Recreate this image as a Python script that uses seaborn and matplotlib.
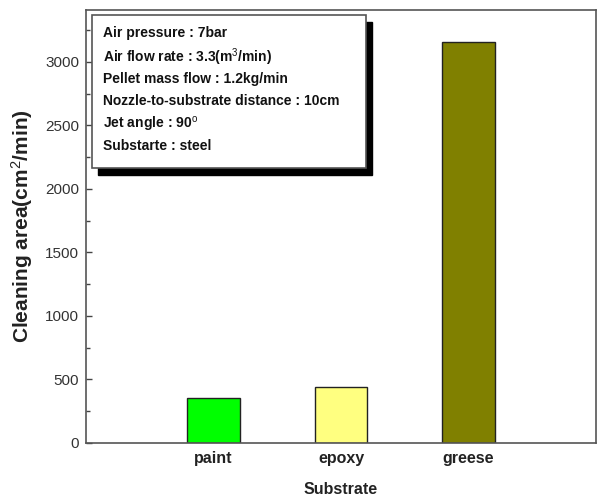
import matplotlib
matplotlib.use("Agg")
import matplotlib.pyplot as plt
import seaborn as sns
import pandas as pd
from matplotlib.patches import Rectangle
from matplotlib.ticker import MultipleLocator

categories = ["paint", "epoxy", "greese"]
values = [352, 440, 3157]
colors = ["#00ff00", "#ffff80", "#808000"]
info_lines = [
    "Air pressure : 7bar",
    r"Air flow rate : 3.3(m$^3$/min)",
    "Pellet mass flow : 1.2kg/min",
    "Nozzle-to-substrate distance : 10cm",
    r"Jet angle : 90$^o$",
    "Substarte : steel",
]

sns.set_theme(style="white")
plt.rcParams["font.family"] = ["Liberation Sans", "DejaVu Sans"]
plt.rcParams["mathtext.fontset"] = "custom"
plt.rcParams["mathtext.rm"] = "Liberation Sans"
plt.rcParams["mathtext.it"] = "Liberation Sans"
plt.rcParams["mathtext.bf"] = "Liberation Sans:bold"

W, H = 603, 499
fig = plt.figure(figsize=(W / 100, H / 100), dpi=100)
L, R, T, B = 86, 596, 10, 443
ax = fig.add_axes([L / W, 1 - B / H, (R - L) / W, (B - T) / H])

df = pd.DataFrame({"cat": categories, "val": values})
sns.barplot(data=df, x="cat", y="val", hue="cat", palette=colors, legend=False,
            width=0.41, edgecolor="#222222", linewidth=1.0, ax=ax, saturation=1)

ax.set_xlim(-1, 3)
ax.set_ylim(0, 3409)
ax.yaxis.set_major_locator(MultipleLocator(500))
ax.yaxis.set_minor_locator(MultipleLocator(250))
ax.tick_params(axis="y", which="both", direction="in", left=True, length=4, width=1,
               color="#444444", labelsize=11, labelcolor="#333333", pad=5)
ax.tick_params(axis="y", which="minor", length=3)
ax.tick_params(axis="x", bottom=False, labelsize=11.5, pad=0)
for lab in ax.get_xticklabels():
    lab.set_fontweight("bold")
    lab.set_color("#222222")
for s in ax.spines.values():
    s.set_color("#555555")
    s.set_linewidth(1.2)

ax.set_xlabel("Substrate", fontsize=11.5, fontweight="bold", labelpad=11, color="#222222")
ax.set_ylabel(r"Cleaning area(cm$^2$/min)", fontsize=15, fontweight="bold", labelpad=7,
              color="#222222")

# info box with shadow (figure pixel coords)
def fr(x0, y0, x1, y1, **kw):
    return Rectangle((x0 / W, 1 - y1 / H), (x1 - x0) / W, (y1 - y0) / H,
                     transform=fig.transFigure, **kw)

fig.add_artist(fr(98, 22, 372, 175, facecolor="black", edgecolor="black", zorder=5))
fig.add_artist(fr(92, 15, 366, 168, facecolor="white", edgecolor="#555555", linewidth=1.2, zorder=6))
ys = [33, 57, 79, 101, 124, 146]
for t, y in zip(info_lines, ys):
    fig.text(103 / W, 1 - y / H, t, fontsize=10, fontweight="bold",
             va="center", ha="left", color="#111111", zorder=7)

fig.savefig("out.png", dpi=100)
